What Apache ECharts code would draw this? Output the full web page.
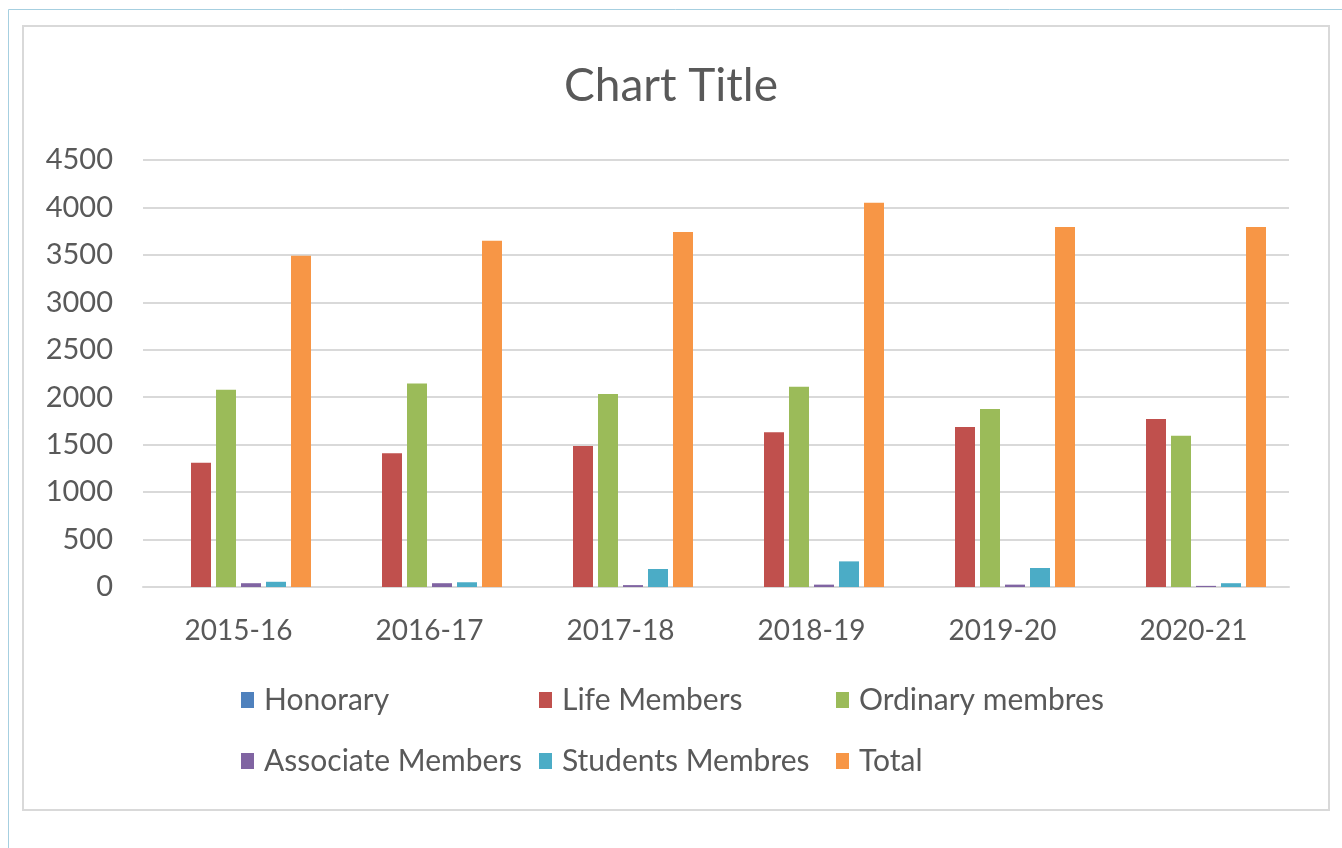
<!DOCTYPE html>
<html>
<head>
<meta charset="utf-8">
<title>Chart Title</title>
<script src="https://cdn.jsdelivr.net/npm/echarts@6/dist/echarts.min.js"></script>
<style>
  html, body { margin: 0; padding: 0; background: #fff; }
  #chart { width: 1342px; height: 848px; }
</style>
</head>
<body>
<div id="chart"></div>
<script>
// categories and values
const years = ['2015-16', '2016-17', '2017-18', '2018-19', '2019-20', '2020-21']
const honorary = [0, 0, 0, 0, 0, 0]
const lifeMembers = [1310, 1410, 1485, 1630, 1685, 1770]
const ordinaryMembres = [2080, 2145, 2035, 2110, 1875, 1595]
const associateMembers = [40, 40, 20, 25, 25, 12]
const studentsMembres = [55, 50, 190, 270, 200, 40]
const total = [3490, 3650, 3740, 4050, 3795, 3795]
const yTicks = [0, 500, 1000, 1500, 2000, 2500, 3000, 3500, 4000, 4500]

const seriesDefs = [
  { name: 'Honorary', data: honorary, color: '#4f81bd' },
  { name: 'Life Members', data: lifeMembers, color: '#c0504d' },
  { name: 'Ordinary membres', data: ordinaryMembres, color: '#9bbb59' },
  { name: 'Associate Members', data: associateMembers, color: '#8064a2' },
  { name: 'Students Membres', data: studentsMembres, color: '#4bacc6' },
  { name: 'Total', data: total, color: '#f79646' }
]

// legend slots (2 rows x 3 columns like the original)
const legendPos = [
  { left: 241, top: 685 }, { left: 539, top: 685 }, { left: 836, top: 685 },
  { left: 241, top: 746 }, { left: 539, top: 746 }, { left: 836, top: 746 }
]

const textColor = '#595959'
const font = 'Lato, "Open Sans", sans-serif'

const chart = echarts.init(document.getElementById('chart'))

const option = {
  animation: false,
  backgroundColor: '#fff',
  title: {
    text: 'Chart Title',
    left: 'center',
    top: 58,
    textStyle: { color: textColor, fontSize: 46, fontWeight: 'normal', fontFamily: font }
  },
  graphic: [
    {
      type: 'rect',
      shape: { x: 8.5, y: 9.5, width: 1400, height: 900 },
      style: { fill: 'none', stroke: '#a6cfe0', lineWidth: 1 }
    },
    {
      type: 'rect',
      shape: { x: 23, y: 26, width: 1306, height: 784 },
      style: { fill: 'none', stroke: '#d9d9d9', lineWidth: 2 }
    }
  ],
  legend: seriesDefs.map((s, i) => ({
    data: [s.name],
    left: legendPos[i].left,
    top: legendPos[i].top,
    itemWidth: 13,
    itemHeight: 16,
    itemGap: 0,
    padding: 0,
    icon: 'rect',
    textStyle: { color: textColor, fontSize: 30, fontFamily: font, padding: [0, 0, 0, 5] }
  })),
  grid: { left: 143, right: 53, top: 160, bottom: 261, containLabel: false },
  xAxis: {
    type: 'category',
    data: years,
    axisLine: { lineStyle: { color: '#d9d9d9', width: 2 } },
    axisTick: { show: false },
    axisLabel: { color: textColor, fontSize: 28, fontFamily: font, margin: 30 }
  },
  yAxis: {
    type: 'value',
    min: yTicks[0],
    max: yTicks[yTicks.length - 1],
    interval: 500,
    axisLine: { show: false },
    axisTick: { show: false },
    axisLabel: { color: textColor, fontSize: 29, fontFamily: font, margin: 30, formatter: v => String(v) },
    splitLine: { lineStyle: { color: '#d9d9d9', width: 2 } }
  },
  series: seriesDefs.map(s => ({
    name: s.name,
    type: 'bar',
    data: s.data,
    barWidth: 20,
    barGap: '25%',
    itemStyle: { color: s.color }
  }))
}

chart.setOption(option)
</script>
</body>
</html>
